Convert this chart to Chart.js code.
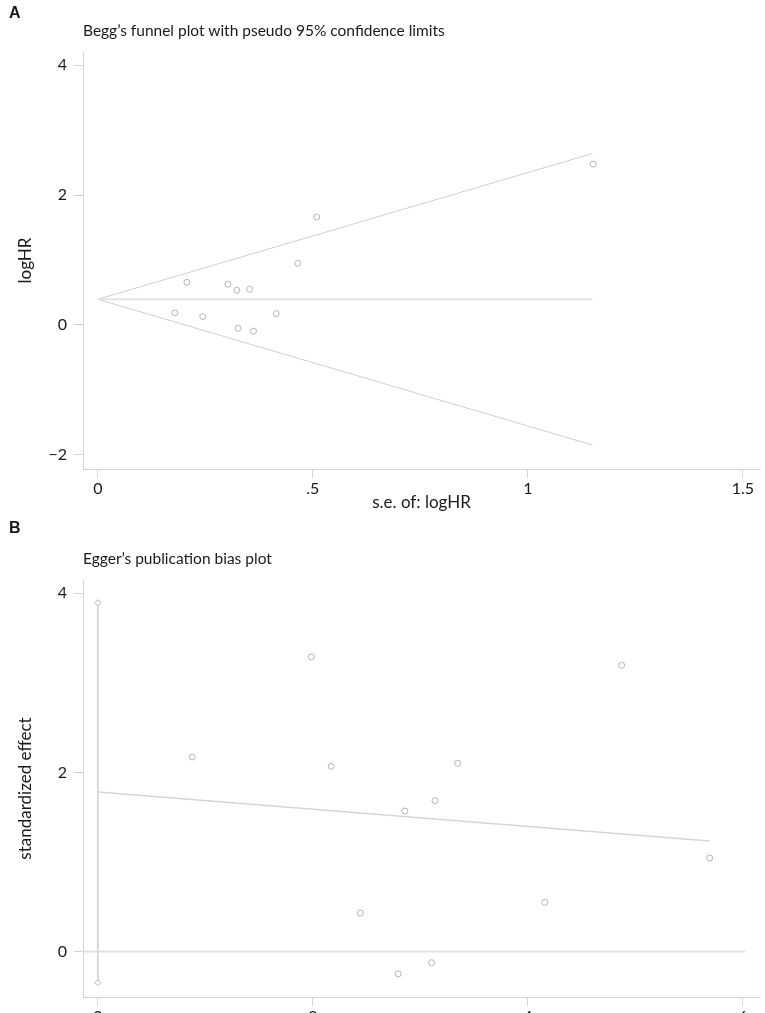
<!DOCTYPE html>
<html>
<head>
<meta charset="utf-8">
<script src="https://cdn.jsdelivr.net/npm/chart.js@4.4.1/dist/chart.umd.min.js"></script>
<style>
  body { margin: 0; background: #fff; overflow: hidden; font-family: Lato, sans-serif; color: #1a1a1a; }
  .panel { position: absolute; left: 0; width: 765px; }
  .letter { position: absolute; left: 9px; font: bold 16px "Liberation Sans", Arial, sans-serif; line-height: 1.15; }
  .title { position: absolute; left: 83px; font-size: 15.5px; line-height: 1.2; white-space: nowrap; }
</style>
</head>
<body>
<div class="panel" style="top:0;height:520px"><canvas id="begg-chart"></canvas></div>
<div class="panel" style="top:520px;height:540px"><canvas id="egger-chart"></canvas></div>
<div class="letter" style="top:4px">A</div>
<div class="title" style="top:21px">Begg’s funnel plot with pseudo 95% confidence limits</div>
<div class="letter" style="top:519px">B</div>
<div class="title" style="top:549px">Egger’s publication bias plot</div>

<script>
// Panel A - Begg's funnel plot (one point per study)
const beggSe    = [0.179, 0.207, 0.244, 0.302, 0.323, 0.326, 0.353, 0.362, 0.415, 0.465, 0.509, 1.152];
const beggLogHR = [0.185, 0.657, 0.128, 0.626, 0.534, -0.051, 0.549, -0.097, 0.174, 0.949, 1.662, 2.477];
// pseudo 95% limits and pooled estimate
const funnelSe    = [0, 1.15];
const funnelUpper = [0.395, 2.64];
const funnelLower = [0.395, -1.85];
const funnelMid   = [0.395, 0.395];
const beggXTicks  = [0, 0.5, 1, 1.5];
const beggXLabels = ['0', '.5', '1', '1.5'];
const beggYTicks  = [-2, 0, 2, 4];

// Panel B - Egger's plot (precision vs standardized effect)
const eggerPrecision = [0.877, 1.985, 2.170, 2.441, 2.793, 2.856, 3.104, 3.136, 3.346, 4.157, 4.872, 5.691];
const eggerEffect    = [2.172, 3.289, 2.068, 0.430, -0.251, 1.569, -0.125, 1.684, 2.101, 0.549, 3.196, 1.044];
const eggerFitX   = [0, 5.691];
const eggerFitY   = [1.78, 1.234];
const interceptCI = [-0.348, 3.895];
const zeroLineX   = [-0.14, 6.02];
const eggerXTicks = [0, 2, 4, 6];
const eggerYTicks = [0, 2, 4];

const AXIS_GREY = '#d4d4d4';
const TEXT = '#1a1a1a';
const TICK_FONT = { family: 'Lato, sans-serif', size: 16 };
const TITLE_FONT = { family: 'Lato, sans-serif', size: 17 };

const pts = (xs, ys) => xs.map((x, i) => ({ x: x, y: ys[i] }));

function fmt(v) {
    return v < 0 ? '\u2212' + Math.abs(v) : String(v);
}

function axis(min, max, ticks, labels, horizontal, size, title, titlePad) {
    return {
        type: 'linear',
        min: min,
        max: max,
        afterBuildTicks: s => { s.ticks = ticks.map(v => ({ value: v })); },
        afterFit: s => { if (horizontal) s.height = size; else s.width = size; },
        border: { color: AXIS_GREY, width: 1 },
        grid: { drawOnChartArea: false, drawTicks: true, tickLength: 9, color: AXIS_GREY },
        ticks: {
            autoSkip: false, maxRotation: 0, padding: horizontal ? 1 : 7,
            color: TEXT, font: TICK_FONT,
            callback: (v, i) => labels ? labels[i] : fmt(v)
        },
        title: { display: !!title, text: title, color: TEXT, font: TITLE_FONT, padding: titlePad }
    };
}

function lineSet(data, color, width) {
    return { data: data, showLine: true, pointRadius: 0, borderColor: color, borderWidth: width, fill: false };
}

function baseOptions(padTop, scales) {
    return {
        responsive: true,
        maintainAspectRatio: false,
        animation: false,
        layout: { padding: { top: padTop, left: 0, right: 0, bottom: 0 } },
        plugins: { legend: { display: false }, tooltip: { enabled: false } },
        scales: scales
    };
}

document.addEventListener('DOMContentLoaded', () => {
    renderBegg();
    renderEgger();
});

function renderBegg() {
    const ctx = document.getElementById('begg-chart');
    new Chart(ctx, {
        type: 'scatter',
        data: {
            datasets: [
                lineSet(pts(funnelSe, funnelMid), '#e2e2e2', 2),
                lineSet(pts(funnelSe, funnelUpper), '#cfcfcf', 1),
                lineSet(pts(funnelSe, funnelLower), '#cfcfcf', 1),
                {
                    data: pts(beggSe, beggLogHR),
                    pointRadius: 3, pointStyle: 'circle',
                    borderColor: '#b4b4b4', borderWidth: 1, backgroundColor: '#fff'
                }
            ]
        },
        options: baseOptions(52, {
            x: axis(-0.0346, 1.54, beggXTicks, beggXLabels, true, 51, 's.e. of: logHR', { top: 0, bottom: 7 }),
            y: axis(-2.22, 4.205, beggYTicks, null, false, 83, 'logHR', { top: 15, bottom: 0 })
        })
    });
}

function renderEgger() {
    const ctx = document.getElementById('egger-chart');
    new Chart(ctx, {
        type: 'scatter',
        data: {
            datasets: [
                lineSet(pts(zeroLineX, [0, 0]), '#e0e0e0', 2),
                lineSet(pts(eggerFitX, eggerFitY), '#d6d6d6', 1.5),
                {
                    data: pts([0, 0], interceptCI),
                    showLine: true, borderColor: '#cdcdcd', borderWidth: 1.5,
                    pointRadius: 3, pointStyle: 'rectRot',
                    pointBorderColor: '#b4b4b4', pointBorderWidth: 1, pointBackgroundColor: '#fff'
                },
                {
                    data: pts(eggerPrecision, eggerEffect),
                    pointRadius: 3, pointStyle: 'circle',
                    borderColor: '#b4b4b4', borderWidth: 1, backgroundColor: '#fff'
                }
            ]
        },
        options: baseOptions(60, {
            x: axis(-0.1385, 6.159, eggerXTicks, null, true, 63, '', { top: 0, bottom: 0 }),
            y: axis(-0.508, 4.148, eggerYTicks, null, false, 83, 'standardized effect', { top: 15, bottom: 0 })
        })
    });
}
</script>
</body>
</html>
